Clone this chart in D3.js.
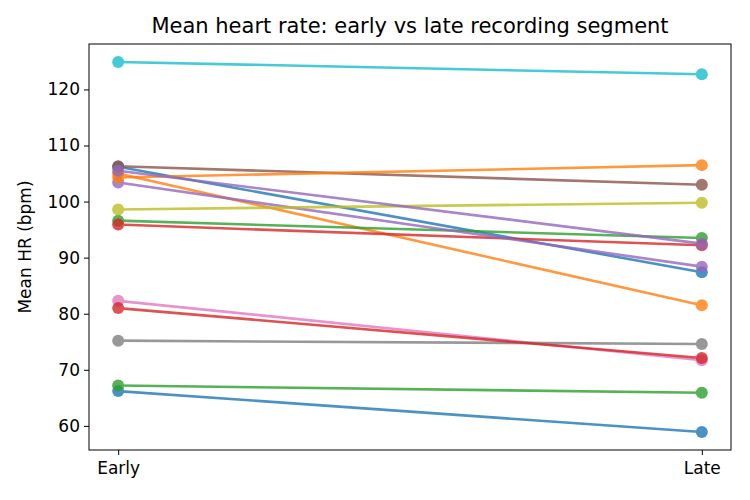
<!DOCTYPE html>
<html>
<head>
<meta charset="utf-8">
<script src="https://cdn.jsdelivr.net/npm/d3@7"></script>
<style>
  body { margin: 0; background: #fff; }
  svg { display: block; font-family: "DejaVu Sans", sans-serif; }
</style>
</head>
<body>
<svg id="chart" width="750" height="500"></svg>
<script>
const segments = ["Early", "Late"];
const earlyHR = [106.2, 105.0, 96.6, 95.9, 103.4, 106.3, 82.3, 75.2, 98.6, 124.9, 66.2, 104.3, 67.2, 81.0, 105.5];
const lateHR  = [87.4, 81.5, 93.5, 92.2, 88.4, 103.0, 71.7, 74.6, 99.8, 122.7, 58.9, 106.5, 65.9, 72.1, 92.5];
const yTicks = [60, 70, 80, 90, 100, 110, 120];

const width = 750;
const height = 500;
const margin = { top: 44, right: 19, bottom: 50, left: 89 };

const svg = d3.select("#chart");

const x = d3.scaleLinear()
  .domain([-0.05, 1.05])
  .range([margin.left, width - margin.right]);

const y = d3.scaleLinear()
  .domain([55.7, 128.1])
  .range([height - margin.bottom, margin.top]);

const color = d3.scaleOrdinal(d3.schemeCategory10);

// axes
const yAxis = svg.append("g")
  .attr("transform", `translate(${margin.left},0)`)
  .call(d3.axisLeft(y).tickValues(yTicks).tickSize(5).tickPadding(4));

const xAxis = svg.append("g")
  .attr("transform", `translate(0,${height - margin.bottom})`)
  .call(d3.axisBottom(x).tickValues([0, 1]).tickFormat((d, i) => segments[i]).tickSize(5).tickPadding(7));

[xAxis, yAxis].forEach(ax => {
  ax.select(".domain").remove();
  ax.selectAll("line").attr("stroke", "#000").attr("stroke-width", 1);
  ax.selectAll("text").attr("fill", "#000").style("font-size", "17px").style("font-family", "DejaVu Sans");
});

// frame
svg.append("rect")
  .attr("x", margin.left)
  .attr("y", margin.top)
  .attr("width", width - margin.left - margin.right)
  .attr("height", height - margin.top - margin.bottom)
  .attr("fill", "none")
  .attr("stroke", "#000")
  .attr("stroke-width", 1);

// slope lines
const rows = earlyHR.map((e, i) => ({ i, vals: [e, lateHR[i]] }));

const g = svg.append("g");
rows.forEach(r => {
  const grp = g.append("g").attr("opacity", 0.8);
  grp.append("line")
    .attr("x1", x(0)).attr("y1", y(r.vals[0]))
    .attr("x2", x(1)).attr("y2", y(r.vals[1]))
    .attr("stroke", color(r.i))
    .attr("stroke-width", 2.6);
  grp.selectAll("circle")
    .data(r.vals)
    .join("circle")
    .attr("cx", (d, j) => x(j))
    .attr("cy", d => y(d))
    .attr("r", 6)
    .attr("fill", color(r.i));
});

// title + label
svg.append("text")
  .attr("x", (margin.left + width - margin.right) / 2)
  .attr("y", 33)
  .attr("text-anchor", "middle")
  .style("font-size", "21px")
  .text("Mean heart rate: early vs late recording segment");

svg.append("text")
  .attr("transform", `translate(31,${(margin.top + height - margin.bottom) / 2}) rotate(-90)`)
  .attr("text-anchor", "middle")
  .style("font-size", "17px")
  .text("Mean HR (bpm)");
</script>
</body>
</html>
